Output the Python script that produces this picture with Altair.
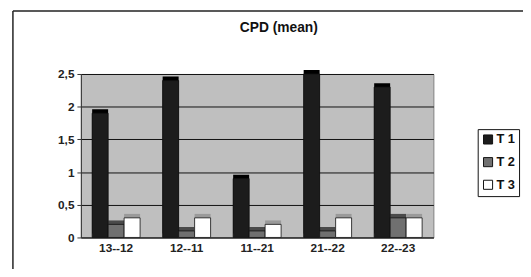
import altair as alt
import pandas as pd

categories = ["13--12", "12--11", "11--21", "21--22", "22--23"]
series = ["T 1", "T 2", "T 3"]
t1 = [1.9, 2.4, 0.9, 2.5, 2.3]
t2 = [0.2, 0.1, 0.1, 0.1, 0.3]
t3 = [0.3, 0.3, 0.2, 0.3, 0.3]

rows = []
for i, c in enumerate(categories):
    for s, vals in zip(series, [t1, t2, t3]):
        rows.append({"pair": c, "series": s, "value": vals[i]})
df = pd.DataFrame(rows)

FONT = "Liberation Sans"

x = alt.X("pair:N", sort=categories, title=None,
          scale=alt.Scale(paddingInner=0.32, paddingOuter=0.16),
          axis=alt.Axis(labelAngle=0, labelFontSize=12, labelFontWeight="bold",
                        labelColor="#222", ticks=False, domainColor="#333",
                        labelPadding=5, labelFont=FONT))
y = alt.Y("value:Q", title=None,
          scale=alt.Scale(domain=[0, 2.5], nice=False),
          axis=alt.Axis(values=[0, 0.5, 1, 1.5, 2, 2.5],
                        labelExpr="replace(format(datum.value, '~g'), '.', ',')",
                        labelFontSize=12, labelFontWeight="bold", labelColor="#222",
                        labelFont=FONT, grid=True, gridColor="#111", gridWidth=1,
                        domainColor="#333", tickColor="#333", tickSize=4,
                        labelPadding=3))
xo = alt.XOffset("series:N", sort=series)

shadow = alt.Chart(df).mark_bar(xOffset=4, yOffset=-4).encode(
    x=x, y=y, xOffset=xo,
    fill=alt.Fill("series:N", sort=series, legend=None,
                  scale=alt.Scale(domain=series, range=["#000000", "#4a4a4a", "#9a9a9a"])),
)

bars = alt.Chart(df).mark_bar(stroke="#111", strokeWidth=0.8).encode(
    x=x, y=y, xOffset=xo,
    fill=alt.Fill("series:N", sort=series, title=None,
                  scale=alt.Scale(domain=series, range=["#1c1c1c", "#707070", "#ffffff"]),
                  legend=alt.Legend(orient="none", legendX=403, legendY=56,
                                    symbolType="square", symbolSize=85,
                                    symbolStrokeColor="#111", symbolStrokeWidth=1,
                                    labelFontSize=13, labelFont=FONT,
                                    labelFontWeight="bold", symbolOffset=0,
                                    labelOffset=2,
                                    labelColor="#111", rowPadding=8,
                                    padding=4, strokeColor="#111",
                                    fillColor="white")),
)

frame_df = pd.DataFrame({"k": [0]})
left_line = alt.Chart(frame_df).mark_rule(color="#222", strokeWidth=1.5).encode(
    x=alt.value(-69), y=alt.value(-64), y2=alt.value(210))
top_line = alt.Chart(frame_df).mark_rule(color="#222", strokeWidth=1.5).encode(
    x=alt.value(-69), x2=alt.value(460), y=alt.value(-64))

chart = alt.layer(shadow, bars, left_line, top_line).resolve_scale(
    fill="independent"
).resolve_legend(fill="independent").properties(
    width=358, height=166,
    title=alt.TitleParams("CPD (mean)", fontSize=14, fontWeight="bold", font=FONT,
                          color="#111", offset=-25, dx=22),
    autosize=alt.AutoSizeParams(type="none"),
    padding={"left": 74, "top": 65, "right": 91, "bottom": 30},
).configure(background="white").configure_view(fill="#bfbfbf", stroke="#808080")

chart.save("out.html", embed_options={"renderer": "svg", "actions": False})
